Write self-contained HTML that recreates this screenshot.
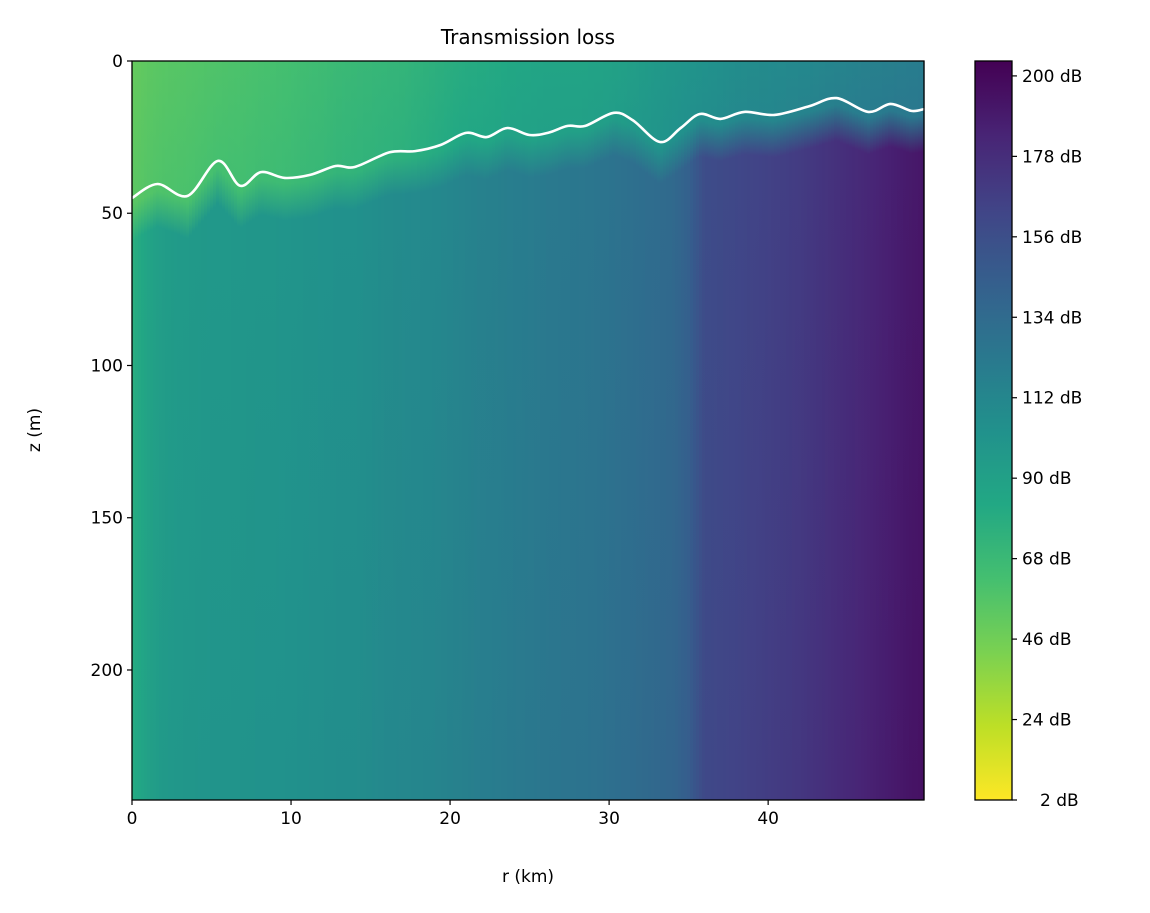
<!DOCTYPE html>
<html><head><meta charset="utf-8"><style>
body{margin:0;background:#fff;font-family:"Liberation Sans","DejaVu Sans",sans-serif}
</style></head><body>
<svg id="c" width="1150" height="908" xmlns="http://www.w3.org/2000/svg" font-family="'DejaVu Sans','Liberation Sans',sans-serif"></svg>
<script>
const rangesKm=[0,1,2,3,4,5,6,7,8,9,10,11,12,13,14,15,16,17,18,19,20,21,22,23,24,25,26,27,28,29,30,31,32,33,34,35,36,37,38,39,40,41,42,43,44,45,46,47,48,49,49.8];
const deepTL=[80,90,96,98,99,100,100,101,102,102,103,104,105,106,106,108,110,111,112,113,115,117,119,120,122,123,125,126,127,128,130,132,134,136,138,145,160,162,164,166,168,170,172,175,178,181,184,187,190,193,195];
const surfTL=[50,53,55,56,57,58,59,60,61,62,63,65,66,68,69,70,71,72,74,76,78,80,81,82,84,85,86,86,86,87,88,90,93,96,98,100,102,104,106,107,108,109,110,111,113,114,116,117,118,119,120];
const lineR=[0,1.6,3.5,5.4,6.8,8.1,9.6,11.2,12.8,14,16.2,17.8,19.4,21,22.3,23.6,25,26.2,27.4,28.5,30.3,31.5,33.2,34.5,35.7,37,38.5,40.4,42.6,44.3,46.3,47.7,49,49.8];
const lineZ=[45,40.4,44.3,32.8,41,36.5,38.4,37.4,34.5,34.8,30,29.6,27.6,23.6,25,22,24.3,23.5,21.3,21.3,17,19.5,26.6,22,17.4,19,16.7,17.7,14.8,12.2,16.7,14.1,16.4,15.8];
const rTicks=[0,10,20,30,40];
const zTicks=[0,50,100,150,200];
const cbTicks=[2,24,46,68,90,112,134,156,178,200];

const X0=132,X1=924,Y0=61,Y1=800,RMAX=49.8,ZMAX=242.7;
const xS=r=>X0+(r/RMAX)*(X1-X0);
const yS=z=>Y0+(z/ZMAX)*(Y1-Y0);
const CB0=800,CBpx=3.657; const cbY=v=>CB0-(v-2)*CBpx;
const vir=[[68,1,84],[72,36,117],[65,68,135],[53,95,141],[42,120,142],[33,145,140],[34,168,132],[68,191,112],[122,209,81],[189,223,38],[253,231,37]];
function col(tl){let t=1-(tl-2)/(204-2);t=Math.max(0,Math.min(1,t));let f=t*10,i=Math.min(9,Math.floor(f)),u=f-i;
 const a=vir[i],b=vir[i+1];return 'rgb('+a.map((v,k)=>Math.round(v+(b[k]-v)*u)).join(',')+')';}
function interp(xs,ys,x){for(let i=0;i<xs.length-1;i++){if(x<=xs[i+1]){const u=(x-xs[i])/(xs[i+1]-xs[i]);return ys[i]+(ys[i+1]-ys[i])*u;}}return ys[ys.length-1];}
const NS='http://www.w3.org/2000/svg',svg=document.getElementById('c');
function mk(t,a,p){const e=document.createElementNS(NS,t);for(const k in a)e.setAttribute(k,a[k]);(p||svg).appendChild(e);return e;}
const defs=mk('defs',{});
const heat=mk('g',{});


const step=3;
for(let px=X0;px<X1;px+=step){
 const r=(px+step/2-X0)/(X1-X0)*RMAX;
 const s=interp(rangesKm,surfTL,r),d=interp(rangesKm,deepTL,r),lz=interp(lineR,lineZ,r);
 const id='g'+px;const g=mk('linearGradient',{id:id,x1:0,y1:0,x2:0,y2:1},defs);
 const f1=(lz+2)/ZMAX,f2=(lz+14)/ZMAX;
 mk('stop',{offset:0,'stop-color':col(s)},g);
 mk('stop',{offset:f1,'stop-color':col(s+4)},g);
 mk('stop',{offset:f2,'stop-color':col(d-3)},g);
 mk('stop',{offset:1,'stop-color':col(d)},g);
 const rc=mk('rect',{x:px,y:Y0,width:step+0.6,height:Y1-Y0,fill:'url(#'+id+')'},heat);
 
 
}
// smooth thermocline line (Catmull-Rom)
const P=lineR.map((r,i)=>[xS(r),yS(lineZ[i])]);
let dstr='M'+P[0][0].toFixed(1)+','+P[0][1].toFixed(1);
for(let i=0;i<P.length-1;i++){const p0=P[Math.max(0,i-1)],p1=P[i],p2=P[i+1],p3=P[Math.min(P.length-1,i+2)];
 const c1=[p1[0]+(p2[0]-p0[0])/6,p1[1]+(p2[1]-p0[1])/6],c2=[p2[0]-(p3[0]-p1[0])/6,p2[1]-(p3[1]-p1[1])/6];
 dstr+='C'+c1[0].toFixed(1)+','+c1[1].toFixed(1)+' '+c2[0].toFixed(1)+','+c2[1].toFixed(1)+' '+p2[0].toFixed(1)+','+p2[1].toFixed(1);}
const ln=mk('path',{d:dstr,fill:'none',stroke:'#fff','stroke-width':2.6,'stroke-linejoin':'round','stroke-linecap':'round'});


const fr=mk('rect',{x:X0,y:Y0,width:X1-X0,height:Y1-Y0,fill:'none',stroke:'#000','stroke-width':1.3});


rTicks.forEach(v=>{const x=xS(v);mk('line',{x1:x,x2:x,y1:Y1,y2:Y1+5,stroke:'#000','stroke-width':1.2});
 const t=mk('text',{x:x,y:Y1+24,'font-size':17,'text-anchor':'middle'});t.textContent=v;
 
 });
zTicks.forEach(v=>{const y=yS(v);mk('line',{x1:X0-5,x2:X0,y1:y,y2:y,stroke:'#000','stroke-width':1.2});
 const t=mk('text',{x:X0-9,y:y+6,'font-size':17,'text-anchor':'end'});t.textContent=v;
 
 });
let t=mk('text',{x:528,y:882,'font-size':17,'text-anchor':'middle'});t.textContent='r (km)';

t=mk('text',{x:40,y:430,'font-size':17,'text-anchor':'middle',transform:'rotate(-90 40 430)'});t.textContent='z (m)';

t=mk('text',{x:528,y:44,'font-size':20,'text-anchor':'middle'});t.textContent='Transmission loss';

const cg=mk('linearGradient',{id:'cbg',x1:0,y1:1,x2:0,y2:0},defs);
for(let i=0;i<=20;i++){const v=2+(204-2)*i/20;mk('stop',{offset:i/20,'stop-color':col(v)},cg);}
const cb=mk('rect',{x:975,y:61,width:37,height:739,fill:'url(#cbg)',stroke:'#000','stroke-width':1.3});

cbTicks.forEach(v=>{const y=cbY(v);mk('line',{x1:1012,x2:1017,y1:y,y2:y,stroke:'#000','stroke-width':1.2});
 const tt=mk('text',{x:1022,y:y+6,'font-size':17});tt.textContent=v+' dB';
 if(v<10)tt.setAttribute('x',1040);
 });
</script>
</body></html>
